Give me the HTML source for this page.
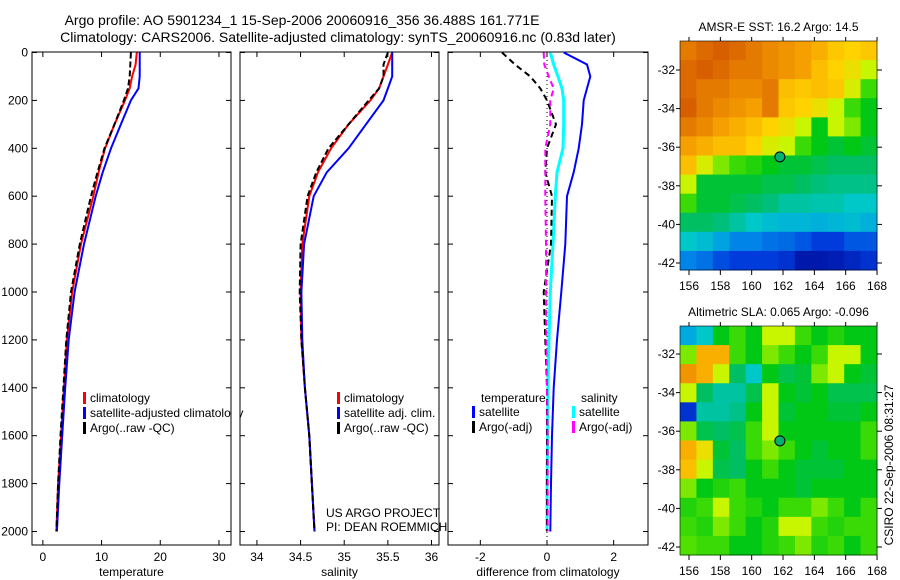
<!DOCTYPE html>
<html><head><meta charset="utf-8"><style>
body{margin:0;background:#fff;}
svg{display:block;font-family:"Liberation Sans",sans-serif;}
</style></head><body>
<svg id="c" width="900" height="580"></svg>
<script>
const depths=[0,50,100,150,200,300,400,500,600,800,1000,1200,1400,1600,1800,2000];
const tempClim=[16.0,15.8,15.2,14.8,14.0,12.2,10.6,9.5,8.6,6.5,5.0,4.1,3.6,3.1,2.6,2.3];
const tempSat=[16.5,16.5,16.5,16.3,15.0,13.3,11.6,10.2,9.0,7.0,5.4,4.4,3.8,3.3,2.8,2.4];
const tempArgo=[15.0,14.9,14.8,14.5,13.8,12.2,10.5,9.3,8.2,6.3,4.8,4.0,3.5,3.0,2.6,2.3];
const salClim=[35.55,35.5,35.45,35.4,35.3,35.05,34.85,34.7,34.6,34.52,34.5,34.51,34.55,34.6,34.63,34.66];
const salSat=[35.55,35.55,35.55,35.5,35.45,35.25,35.05,34.8,34.65,34.54,34.51,34.52,34.55,34.6,34.63,34.66];
const salArgo=[35.5,35.45,35.45,35.4,35.28,35.05,34.82,34.68,34.58,34.5,34.49,34.51,34.55,34.6,34.63,34.66];
const dTempSat=[0.5,1.2,1.3,1.2,1.1,1.05,0.95,0.8,0.6,0.55,0.43,0.3,0.2,0.15,0.12,0.1];
const dSalSat=[0.1,0.2,0.33,0.45,0.5,0.5,0.48,0.3,0.25,0.18,0.1,0.06,0.03,0.02,0.0,0.0];
const dTempArgo=[-1.35,-0.96,-0.5,-0.2,0.0,0.27,0.0,-0.05,0.15,0.12,-0.1,-0.05,0.0,0.0,0.0,0.0];
const dSalArgo=[-0.1,-0.08,0.05,0.2,0.1,0.1,-0.05,-0.05,-0.05,-0.03,-0.03,-0.02,0.0,0.02,0.02,0.02];
const depthTicks=[0,200,400,600,800,1000,1200,1400,1600,1800,2000];
const tempTicks=[0,10,20,30];
const salTicks=[34,34.5,35,35.5,36];
const salTickLabels=["34","34.5","35","35.5","36"];
const diffTicks=[-2,0,2];
const lonTicks=[156,158,160,162,164,166,168];
const latTicks=[-32,-34,-36,-38,-40,-42];
const sst=[
[.85,.88,.9,.88,.85,.82,.8,.78,.75,.7,.68,.7],
[.88,.9,.88,.85,.85,.82,.8,.78,.72,.68,.65,.6],
[.88,.85,.85,.82,.82,.85,.72,.7,.72,.7,.62,.5],
[.9,.85,.82,.8,.78,.85,.7,.68,.65,.6,.5,.45],
[.85,.82,.78,.75,.72,.68,.65,.6,.45,.6,.55,.45],
[.78,.75,.72,.72,.68,.62,.6,.5,.45,.42,.45,.42],
[.72,.62,.55,.5,.48,.45,.42,.42,.4,.38,.38,.38],
[.6,.42,.42,.42,.42,.4,.4,.38,.36,.35,.35,.35],
[.5,.42,.42,.4,.38,.36,.33,.33,.32,.32,.3,.3],
[.38,.38,.36,.33,.3,.28,.27,.27,.26,.27,.28,.26],
[.3,.28,.24,.2,.2,.18,.17,.15,.12,.12,.15,.15],
[.2,.18,.14,.12,.12,.12,.1,.05,.05,.06,.08,.1]];
const sla=[
[.25,.3,.45,.5,.45,.6,.6,.5,.45,.48,.45,.45],
[.55,.75,.75,.5,.45,.55,.5,.45,.5,.6,.6,.45],
[.8,.75,.6,.38,.3,.45,.4,.42,.55,.6,.45,.42],
[.6,.38,.33,.33,.4,.6,.45,.42,.45,.4,.4,.4],
[.1,.33,.33,.35,.45,.6,.42,.45,.45,.42,.42,.45],
[.55,.4,.38,.4,.5,.6,.45,.45,.45,.45,.45,.5],
[.75,.65,.42,.38,.5,.55,.5,.45,.42,.45,.45,.5],
[.72,.6,.4,.38,.45,.5,.45,.42,.42,.42,.45,.45],
[.55,.45,.48,.5,.45,.45,.45,.42,.45,.45,.45,.45],
[.48,.5,.6,.5,.48,.45,.5,.5,.55,.5,.45,.5],
[.5,.48,.55,.5,.45,.48,.6,.6,.5,.48,.5,.5],
[.52,.5,.5,.45,.45,.48,.5,.55,.48,.5,.45,.5]];
const floatPos=[161.8,-36.5];

const NS="http://www.w3.org/2000/svg";
const svg=document.getElementById('c');
function mk(tag,at,parent){const e=document.createElementNS(NS,tag);for(const k in at)e.setAttribute(k,at[k]);(parent||svg).appendChild(e);return e;}
function txt(x,y,s,anchor,size,parent){const t=mk('text',{x:x,y:y,'text-anchor':anchor||'middle','font-size':size||12,fill:'#000'},parent);t.textContent=s;return t;}
const yD=d=>52.5+d*0.2395;
function panel(name,x0,x1,xmin,xmax){
  const g=mk('g',{});
  
  
  mk('rect',{x:x0,y:52,width:x1-x0,height:493,fill:'none',stroke:'#000','stroke-width':1},g);
  return {g:g,xs:v=>x0+(v-xmin)/(xmax-xmin)*(x1-x0),x0:x0,x1:x1};
}
function axes(p,ticks,labels,xlabel,ylabels){
  ticks.forEach((t,i)=>{const x=p.xs(t);
    mk('line',{x1:x,x2:x,y1:545,y2:540,stroke:'#000'},p.g);
    mk('line',{x1:x,x2:x,y1:52,y2:57,stroke:'#000'},p.g);
    const l=txt(x,561,labels[i],'middle',12,p.g);
    
    
  });
  depthTicks.forEach(d=>{const y=yD(d);
    mk('line',{x1:p.x0,x2:p.x0+5,y1:y,y2:y,stroke:'#000'},p.g);
    mk('line',{x1:p.x1,x2:p.x1-5,y1:y,y2:y,stroke:'#000'},p.g);
    if(ylabels){const l=txt(p.x0-4,y+4,String(d),'end',12,p.g);
      
      }
  });
  const xl=txt((p.x0+p.x1)/2,576,xlabel,'middle',12,p.g);
  
  
}
function line(p,vals,color,w,dash,name){
  const pts=vals.map((v,i)=>p.xs(v).toFixed(1)+','+yD(depths[i]).toFixed(1)).join(' ');
  const l=mk('polyline',{points:pts,fill:'none',stroke:color,'stroke-width':w,'stroke-dasharray':dash||'none'},p.g);
  
  
}
function legend(p,x,y,items){
  items.forEach((it,i)=>{
    mk('rect',{x:x,y:y+i*15-10,width:3,height:12,fill:it[1]},p.g);
    const t=txt(x+7,y+i*15,it[0],'start',12,p.g);
    
    
  });
}
// titles
const t1=txt(302,25,"Argo profile: AO 5901234_1 15-Sep-2006 20060916_356 36.488S 161.771E",'middle',14);


const t2=txt(338,42,"Climatology: CARS2006. Satellite-adjusted climatology: synTS_20060916.nc (0.83d later)",'middle',14);



// temperature
const pT=panel('temperature-panel',32,231,-1.85,32.05);
axes(pT,tempTicks,tempTicks.map(String),'temperature',true);
line(pT,tempClim,'#f00',2,null,'temp-climatology-line');
line(pT,tempSat,'#00f',2,null,'temp-satellite-line');
line(pT,tempArgo,'#000',2,'6,3','temp-argo-line');
legend(pT,83,402,[['climatology','#f00'],['satellite-adjusted climatology','#00f'],['Argo(..raw -QC)','#000']]);
mk('rect',{x:231.5,y:380,width:8,height:60,fill:'#fff'});
mk('line',{x1:231,x2:231,y1:52,y2:545,stroke:'#000'});

// salinity
const pS=panel('salinity-panel',240,439,33.806,36.086);
axes(pS,salTicks,salTickLabels,'salinity',false);
line(pS,salClim,'#f00',2,null,'sal-climatology-line');
line(pS,salSat,'#00f',2,null,'sal-satellite-line');
line(pS,salArgo,'#000',2,'6,3','sal-argo-line');
legend(pS,337,402,[['climatology','#f00'],['satellite adj. clim.','#00f'],['Argo(..raw -QC)','#000']]);
const c1=txt(326,517,'US ARGO PROJECT','start',12);
const c2=txt(326,531,'PI: DEAN ROEMMICH','start',12);

// difference
const pD=panel('difference-panel',448,648,-2.97,3.03);
axes(pD,diffTicks,diffTicks.map(String),'difference from climatology',false);
mk('line',{x1:pD.xs(0),x2:pD.xs(0),y1:52,y2:545,stroke:'#000','stroke-dasharray':'1,3'},pD.g);
line(pD,dTempSat,'#00f',2,null,'diff-temp-satellite-line');
line(pD,dSalSat,'#0ff',3,null,'diff-sal-satellite-line');
line(pD,dTempArgo,'#000',2,'6,4','diff-temp-argo-line');
line(pD,dSalArgo,'#f0f',2,'6,4','diff-sal-argo-line');
const lh1=txt(481,402,'temperature','start',12,pD.g);
const lh2=txt(581,402,'salinity','start',12,pD.g);
legend(pD,472,416,[['satellite','#00f'],['Argo(-adj)','#000']]);
legend(pD,572,416,[['satellite','#0ff'],['Argo(-adj)','#f0f']]);

// colormap
const cstops=[[0,[0,0,140]],[.12,[0,60,220]],[.22,[0,150,235]],[.3,[0,200,200]],[.37,[0,190,110]],[.45,[0,200,20]],[.52,[80,225,0]],[.6,[200,245,0]],[.68,[255,210,0]],[.78,[245,160,0]],[.9,[215,95,0]],[1,[190,60,0]]];
function cmap(v){for(let i=1;i<cstops.length;i++){if(v<=cstops[i][0]){const a=cstops[i-1],b=cstops[i];const f=(v-a[0])/(b[0]-a[0]);return 'rgb('+a[1].map((c,k)=>Math.round(c+(b[1][k]-c)*f)).join(',')+')';}}return 'rgb(190,60,0)';}
function map(name,grid,x0,y0,w,h,title,lonAt,latAt){
  const g=mk('g',{});
  
  
  const rows=grid.length,cols=grid[0].length,cw=w/cols,ch=h/rows;
  grid.forEach((r,i)=>r.forEach((v,j)=>{
    const c=mk('rect',{x:x0+j*cw,y:y0+i*ch,width:cw+0.5,height:ch+0.5,fill:cmap(v)},g);
    
    
  }));
  mk('rect',{x:x0,y:y0,width:w,height:h,fill:'none',stroke:'#000','stroke-width':0.6},g);
  lonTicks.forEach(l=>{const x=lonAt(l);
    mk('line',{x1:x,x2:x,y1:y0+h,y2:y0+h+5,stroke:'#000'},g);
    mk('line',{x1:x,x2:x,y1:y0,y2:y0-4,stroke:'#000'},g);
    txt(x,y0+h+20,String(l),'middle',12,g);});
  latTicks.forEach(l=>{const y=latAt(l);
    mk('line',{x1:x0-4,x2:x0,y1:y,y2:y,stroke:'#000'},g);
    mk('line',{x1:x0+w,x2:x0+w+5,y1:y,y2:y,stroke:'#000'},g);
    txt(x0-5,y+4,String(l),'end',12,g);});
  const m=mk('circle',{cx:lonAt(floatPos[0]),cy:latAt(floatPos[1]),r:5,fill:'#00b070',stroke:'#000','stroke-width':1},g);
  
  
  const tt=txt(x0+w/2,y0-10,title,'middle',12,g);
  
  
}
map('sst-map',sst,680,41,197,229,'AMSR-E SST: 16.2 Argo: 14.5',l=>689+(l-156)*15.67,l=>70+(-32-l)*19.3);
map('sla-map',sla,680,326,197,229,'Altimetric SLA: 0.065 Argo: -0.096',l=>689+(l-156)*15.67,l=>354+(-32-l)*19.3);
const st=txt(0,0,'CSIRO 22-Sep-2006 08:31:27','middle',12);
st.setAttribute('transform','translate(893,465) rotate(-90)');


</script>
</body></html>
